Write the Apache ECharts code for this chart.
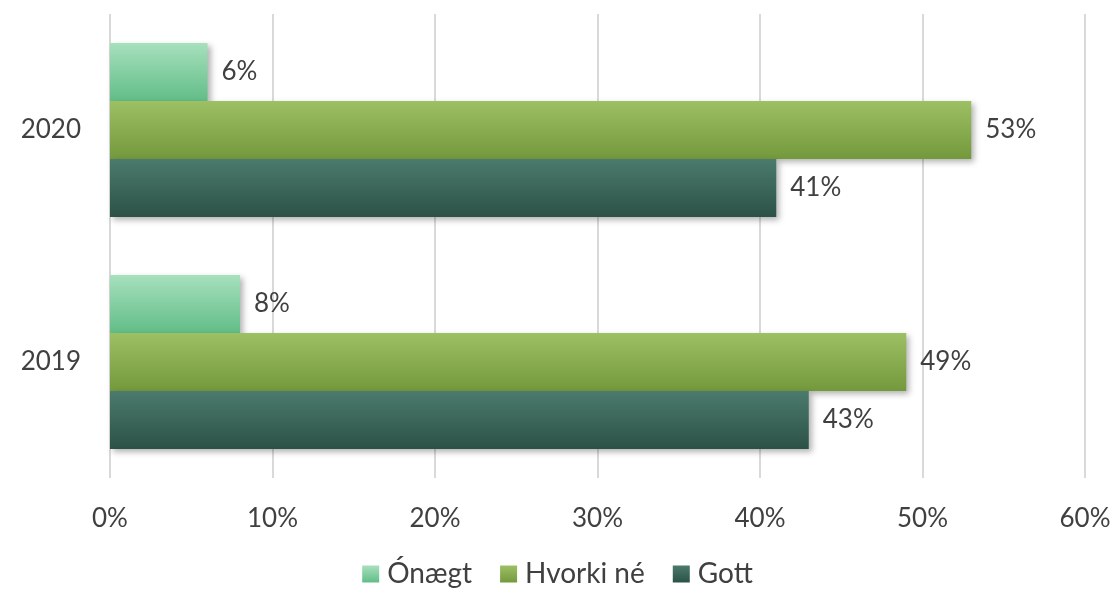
<!DOCTYPE html>
<html>
<head>
<meta charset="utf-8">
<script src="https://cdn.jsdelivr.net/npm/echarts@6/dist/echarts.min.js"></script>
<style>
  html, body { margin: 0; padding: 0; background: #fff; }
  #main { width: 1115px; height: 597px; }
</style>
</head>
<body>
<div id="main"></div>
<script>
// ár (neðst fyrst, eins og ECharts raðar flokkum)
var years = ['2019', '2020'];
var seriesNames = ['Ónægt', 'Hvorki né', 'Gott'];
var onaegt = [8, 6];
var hvorki = [49, 53];
var gott = [43, 41];
var xTicks = [0, 10, 20, 30, 40, 50, 60];

function grad(top, bottom) {
    return new echarts.graphic.LinearGradient(0, 0, 0, 1, [
        { offset: 0, color: top },
        { offset: 1, color: bottom }
    ]);
}

var colors = [
    grad('#a7e0bd', '#62bd88'),
    grad('#9dc064', '#74983c'),
    grad('#4b7b6d', '#2c5147')
];

var font = 'Lato, "Open Sans", sans-serif';

function makeSeries(name, data, color) {
    return {
        name: name,
        type: 'bar',
        data: data,
        barGap: '0%',
        barCategoryGap: '25%',
        itemStyle: {
            color: color,
            shadowColor: 'rgba(0,0,0,0.3)',
            shadowBlur: 6,
            shadowOffsetX: 3,
            shadowOffsetY: 3
        },
        label: {
            show: true,
            position: 'right',
            distance: 14,
            formatter: '{c}%',
            color: '#404040',
            fontSize: 26,
            fontFamily: font
        }
    };
}

var option = {
    animation: false,
    textStyle: { fontFamily: font },
    legend: {
        data: seriesNames,
        bottom: 4,
        left: 'center',
        itemWidth: 17,
        itemHeight: 17,
        itemGap: 28,
        icon: 'rect',
        textStyle: { fontSize: 28, color: '#404040', fontFamily: font, padding: [0, 0, 0, 3] }
    },
    grid: {
        left: 110,
        right: 30,
        top: 14,
        bottom: 119,
        containLabel: false
    },
    xAxis: {
        type: 'value',
        min: xTicks[0],
        max: xTicks[xTicks.length - 1],
        interval: 10,
        axisLine: { show: false },
        axisTick: { show: false },
        splitLine: { lineStyle: { color: '#d9d9d9', width: 2 } },
        axisLabel: {
            formatter: '{value}%',
            color: '#404040',
            fontSize: 26,
            margin: 28,
            fontFamily: font
        }
    },
    yAxis: {
        type: 'category',
        data: years,
        axisLine: { show: false },
        axisTick: { show: false },
        axisLabel: {
            color: '#404040',
            fontSize: 26,
            margin: 29,
            fontFamily: font
        }
    },
    series: [
        makeSeries(seriesNames[0], onaegt, colors[0]),
        makeSeries(seriesNames[1], hvorki, colors[1]),
        makeSeries(seriesNames[2], gott, colors[2])
    ]
};

var myChart = echarts.init(document.getElementById('main'));
myChart.setOption(option);
</script>
</body>
</html>
